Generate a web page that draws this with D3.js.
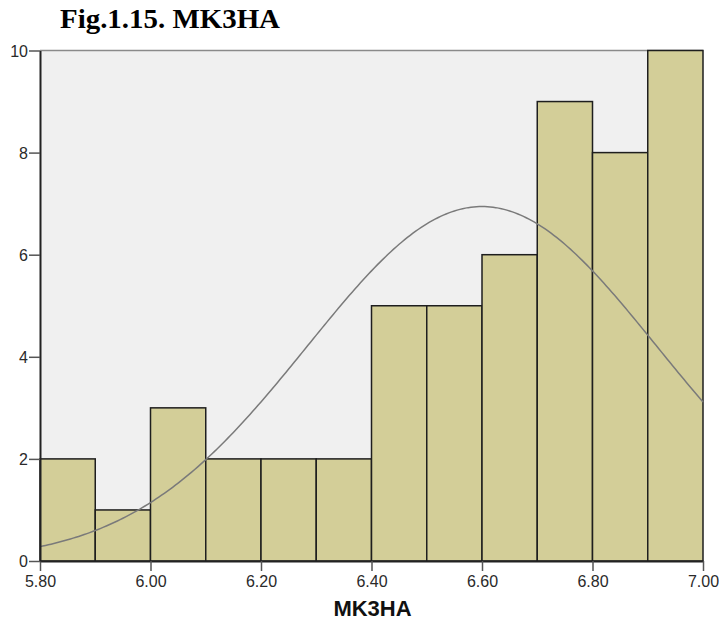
<!DOCTYPE html>
<html>
<head>
<meta charset="utf-8">
<script src="https://cdn.jsdelivr.net/npm/d3@7"></script>
<style>
  html, body { margin: 0; padding: 0; background: #fff; }
  svg { display: block; }
</style>
</head>
<body>
<svg id="chart" width="719" height="622"></svg>
<script>
// Histogram of MK3HA with fitted normal curve
const binStarts = [5.80, 5.90, 6.00, 6.10, 6.20, 6.30, 6.40, 6.50, 6.60, 6.70, 6.80, 6.90];
const binWidth = 0.10;
const counts = [2, 1, 3, 2, 2, 2, 5, 5, 6, 9, 8, 10];
const xTickValues = [5.80, 6.00, 6.20, 6.40, 6.60, 6.80, 7.00];
const yTickValues = [0, 2, 4, 6, 8, 10];
const fitMean = 6.60;
const fitSd = 0.316;

const svg = d3.select("#chart");
const plotLeft = 40, plotRight = 703, plotTop = 50.5, plotBottom = 561;

const x = d3.scaleLinear().domain([5.8, 7.0]).range([plotLeft, plotRight]);
const y = d3.scaleLinear().domain([0, 10]).range([plotBottom, plotTop]);

// plot background
svg.append("rect")
  .attr("x", plotLeft).attr("y", plotTop)
  .attr("width", plotRight - plotLeft).attr("height", plotBottom - plotTop)
  .attr("fill", "#f0f0f0");

// top frame line
svg.append("line")
  .attr("x1", plotLeft).attr("x2", plotRight)
  .attr("y1", plotTop).attr("y2", plotTop)
  .attr("stroke", "#8a8a8a").attr("stroke-width", 1.5);

// bars
svg.append("g").selectAll("rect")
  .data(binStarts.map((s, i) => ({ s, c: counts[i] })))
  .join("rect")
  .attr("x", d => x(d.s))
  .attr("y", d => y(d.c))
  .attr("width", d => x(d.s + binWidth) - x(d.s))
  .attr("height", d => y(0) - y(d.c))
  .attr("fill", "#d3ce98")
  .attr("stroke", "#1e1e1e")
  .attr("stroke-width", 1.5);

// normal curve scaled to counts
const total = d3.sum(counts);
const pdf = v => total * binWidth / (fitSd * Math.sqrt(2 * Math.PI)) *
  Math.exp(-0.5 * Math.pow((v - fitMean) / fitSd, 2));
const curvePts = d3.range(0, 241).map(i => 5.8 + i * 0.005);
svg.append("path")
  .datum(curvePts)
  .attr("fill", "none")
  .attr("stroke", "#7a7a7a")
  .attr("stroke-width", 1.5)
  .attr("d", d3.line().x(v => x(v)).y(v => y(pdf(v))));

// axes
const fmt = d3.format(".2f");
const xAxis = svg.append("g")
  .attr("transform", `translate(0,${plotBottom})`)
  .call(d3.axisBottom(x).tickValues(xTickValues).tickFormat(fmt).tickSize(10).tickSizeOuter(0).tickPadding(5));
const yAxis = svg.append("g")
  .attr("transform", `translate(${plotLeft},0)`)
  .call(d3.axisLeft(y).tickValues(yTickValues).tickFormat(d3.format("d")).tickSize(11).tickSizeOuter(0).tickPadding(1));

[xAxis, yAxis].forEach(g => {
  g.select(".domain").attr("stroke", "#222").attr("stroke-width", 2);
  g.selectAll(".tick line").attr("stroke", "#555").attr("stroke-width", 1.5);
  g.selectAll(".tick text")
    .attr("fill", "#2a2a2a")
    .style("font-family", "'Liberation Sans', Arial, sans-serif")
    .style("font-size", "16px");
});
yAxis.selectAll(".tick text").attr("dy", "0.35em");

// axis title
svg.append("text")
  .attr("x", (plotLeft + plotRight) / 2 + 1)
  .attr("y", 616)
  .attr("text-anchor", "middle")
  .style("font-family", "'Liberation Sans', Arial, sans-serif")
  .style("font-size", "22px")
  .style("font-weight", "bold")
  .attr("fill", "#111")
  .text("MK3HA");

// figure caption
svg.append("text")
  .attr("x", 60)
  .attr("y", 28)
  .style("font-family", "'Liberation Serif', 'Times New Roman', serif")
  .style("font-size", "28px")
  .style("font-weight", "bold")
  .attr("fill", "#000")
  .attr("textLength", 220)
  .attr("lengthAdjust", "spacingAndGlyphs")
  .text("Fig.1.15. MK3HA");
</script>
</body>
</html>
